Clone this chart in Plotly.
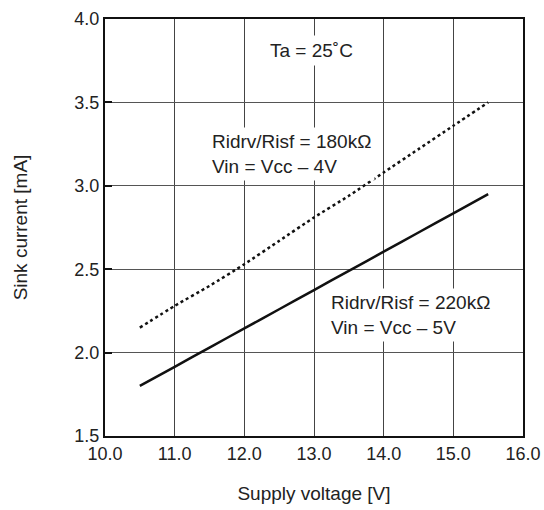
import plotly.graph_objects as go

supply_voltage = [10.5, 11.0, 11.5, 12.0, 12.5, 13.0, 13.5, 14.0, 14.5, 15.0, 15.5]
current_180k = [2.15, 2.28, 2.40, 2.53, 2.67, 2.81, 2.94, 3.08, 3.22, 3.36, 3.50]
current_220k = [1.80, 1.915, 2.03, 2.145, 2.26, 2.375, 2.49, 2.605, 2.72, 2.835, 2.95]

x_ticks = [10, 11, 12, 13, 14, 15, 16]
x_tick_labels = ["10.0", "11.0", "12.0", "13.0", "14.0", "15.0", "16.0"]
y_ticks = [1.5, 2.0, 2.5, 3.0, 3.5, 4.0]
y_tick_labels = ["1.5", "2.0", "2.5", "3.0", "3.5", "4.0"]

FONT = "Liberation Sans, Arial, sans-serif"

fig = go.Figure()
fig.add_trace(go.Scatter(x=supply_voltage, y=current_180k, mode="lines",
                         line=dict(color="#111", width=2.5, dash="dot", shape="spline", smoothing=0.6),
                         showlegend=False, hoverinfo="skip"))
fig.add_trace(go.Scatter(x=supply_voltage, y=current_220k, mode="lines",
                         line=dict(color="#111", width=2.5, shape="spline", smoothing=0.6),
                         showlegend=False, hoverinfo="skip"))

ann_font = dict(family=FONT, size=19, color="#222")
fig.add_annotation(x=12.29, y=3.81, text="Ta = 25˚C", showarrow=False, xanchor="left",
                   yanchor="middle", bgcolor="white", font=ann_font, borderpad=4)
fig.add_annotation(x=11.485, y=3.19, text="Ridrv/Risf = 180kΩ<br>Vin = Vcc – 4V", showarrow=False,
                   xanchor="left", yanchor="middle", align="left", bgcolor="white", font=ann_font, borderpad=3)
fig.add_annotation(x=13.19, y=2.226, text="Ridrv/Risf = 220kΩ<br>Vin = Vcc – 5V", showarrow=False,
                   xanchor="left", yanchor="middle", align="left", bgcolor="white", font=ann_font, borderpad=3)

fig.update_layout(
    width=544, height=510,
    margin=dict(l=105, r=21, t=19, b=74, autoexpand=False),
    plot_bgcolor="white", paper_bgcolor="white",
    font=dict(family=FONT, color="#222"),
)
fig.update_xaxes(range=[10, 16], tickvals=x_ticks, ticktext=x_tick_labels,
                 showgrid=True, gridcolor="#444", gridwidth=1,
                 showline=True, linecolor="#111", linewidth=2, mirror=True,
                 ticks="", tickfont=dict(size=18, family=FONT, color="#222"),
                 title=dict(text="Supply voltage [V]", font=dict(size=19, family=FONT, color="#222"), standoff=24),
                 zeroline=False, automargin=False)
fig.update_yaxes(range=[1.5, 4.0], tickvals=y_ticks, ticktext=y_tick_labels,
                 showgrid=True, gridcolor="#555", gridwidth=1,
                 showline=True, linecolor="#111", linewidth=2, mirror=True,
                 ticks="inside", ticklen=7, tickwidth=2, tickcolor="#111",
                 tickfont=dict(size=18, family=FONT, color="#222"),
                 title=dict(text="Sink current [mA]", font=dict(size=19, family=FONT, color="#222"), standoff=42),
                 zeroline=False, automargin=False)

fig.write_html("out.html", config={"displayModeBar": False},
               post_script="document.body.style.margin='0';document.body.style.overflow='hidden';")
